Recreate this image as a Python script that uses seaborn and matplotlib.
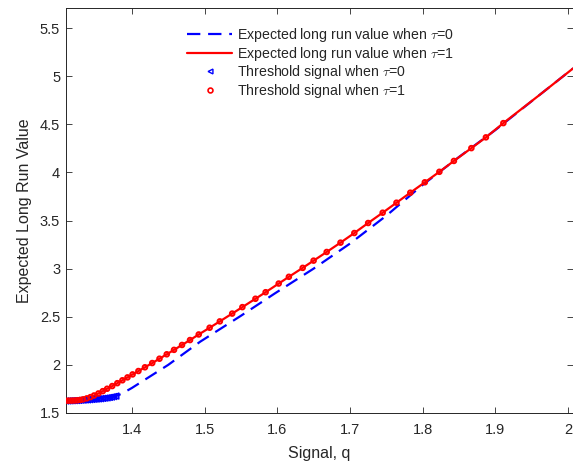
import matplotlib
matplotlib.use("Agg")
import matplotlib.pyplot as plt
import seaborn as sns
import pandas as pd
from matplotlib.lines import Line2D

# ---- data ----
red_x = [1.309, 1.313, 1.317, 1.321, 1.325, 1.329, 1.333, 1.338, 1.343, 1.348,
         1.354, 1.360, 1.366, 1.373, 1.380, 1.387, 1.394, 1.401, 1.409, 1.418,
         1.428, 1.438, 1.448, 1.458, 1.469, 1.480, 1.492, 1.507, 1.521, 1.538,
         1.552, 1.570, 1.584, 1.602, 1.616, 1.635, 1.650, 1.668, 1.687, 1.706,
         1.725, 1.745, 1.764, 1.783, 1.803, 1.823, 1.843, 1.867, 1.887, 1.911]
red_y = [1.628, 1.628, 1.629, 1.630, 1.632, 1.636, 1.642, 1.652, 1.665, 1.682,
         1.703, 1.727, 1.752, 1.780, 1.810, 1.840, 1.870, 1.901, 1.936, 1.975,
         2.019, 2.064, 2.110, 2.156, 2.207, 2.258, 2.316, 2.386, 2.452, 2.533,
         2.600, 2.687, 2.755, 2.845, 2.915, 3.008, 3.083, 3.173, 3.270, 3.370,
         3.474, 3.581, 3.685, 3.789, 3.897, 4.006, 4.119, 4.252, 4.364, 4.512]
red_tail_x = [1.960, 2.007]
red_tail_y = [4.800, 5.081]

blue_mk_x = [1.309, 1.312, 1.315, 1.318, 1.321, 1.324, 1.327, 1.330, 1.333, 1.336,
             1.339, 1.342, 1.345, 1.348, 1.351, 1.354, 1.357, 1.360, 1.363, 1.366,
             1.369, 1.372, 1.375, 1.378]
blue_mk_y = [1.625, 1.626, 1.627, 1.628, 1.629, 1.630, 1.631, 1.633, 1.634, 1.636,
             1.637, 1.639, 1.641, 1.643, 1.645, 1.647, 1.649, 1.652, 1.655, 1.658,
             1.662, 1.666, 1.671, 1.676]
blue_tail_x = [1.386, 1.400, 1.450, 1.494, 1.550, 1.597, 1.650, 1.700, 1.750,
               1.800, 1.850, 1.900, 1.950, 2.007]
blue_tail_y = [1.700, 1.760, 2.000, 2.241, 2.510, 2.744, 3.000, 3.260, 3.550,
               3.870, 4.160, 4.440, 4.740, 5.081]

x_ticks = [1.4, 1.5, 1.6, 1.7, 1.8, 1.9, 2.0]
x_ticklabels = ["1.4", "1.5", "1.6", "1.7", "1.8", "1.9", "2"]
y_ticks = [1.5, 2, 2.5, 3, 3.5, 4, 4.5, 5, 5.5]
y_ticklabels = ["1.5", "2", "2.5", "3", "3.5", "4", "4.5", "5", "5.5"]

labels = ["Expected long run value when $\\tau$=0",
          "Expected long run value when $\\tau$=1",
          "Threshold signal when $\\tau$=0",
          "Threshold signal when $\\tau$=1"]

# ---- frames ----
red_line = pd.DataFrame({"q": red_x + red_tail_x, "v": red_y + red_tail_y})
red_pts = pd.DataFrame({"q": red_x, "v": red_y})
blue_line = pd.DataFrame({"q": blue_mk_x + blue_tail_x, "v": blue_mk_y + blue_tail_y})
blue_pts = pd.DataFrame({"q": blue_mk_x, "v": blue_mk_y})

sns.set_style("white")
plt.rcParams["font.family"] = ["Liberation Sans", "DejaVu Sans"]
plt.rcParams["mathtext.fontset"] = "cm"

txt = "#262626"
fig = plt.figure(figsize=(5.73, 4.66), dpi=100)
ax = fig.add_axes([65.7 / 573, 53 / 466, 1 - 65.7 / 573, 405 / 466])

BLUE = "#0000ff"
RED = "#ff0000"

sns.lineplot(data=blue_line, x="q", y="v", ax=ax, color=BLUE, lw=1.6,
             estimator=None, sort=False, dashes=False)
ax.lines[-1].set_dashes([6, 3.5])
sns.lineplot(data=red_line, x="q", y="v", ax=ax, color=RED, lw=1.6,
             estimator=None, sort=False)
sns.scatterplot(data=blue_pts, x="q", y="v", ax=ax, marker="<", s=18,
                facecolors="none", edgecolor=BLUE, linewidth=1.1, zorder=3)
sns.scatterplot(data=red_pts, x="q", y="v", ax=ax, marker="o", s=11,
                facecolors="none", edgecolor=RED, linewidth=1.4, zorder=4)

ax.set_xlim(1.309, 2.0068)
ax.set_ylim(1.5, 5.708)
ax.set_xticks(x_ticks)
ax.set_xticklabels(x_ticklabels)
ax.set_yticks(y_ticks)
ax.set_yticklabels(y_ticklabels)
ax.tick_params(direction="in", length=4, width=0.6, colors="#262626",
               labelcolor=txt, labelsize=10.5, top=True, right=True,
               bottom=True, left=True, pad=4)
ax.tick_params(axis="x", pad=7)
for s in ax.spines.values():
    s.set_color("#262626")
    s.set_linewidth(0.7)
ax.set_xlabel("Signal, q", fontsize=11.5, color=txt, labelpad=7)
ax.set_ylabel("Expected Long Run Value", fontsize=11.5, color=txt, labelpad=6)

handles = [
    Line2D([], [], color=BLUE, lw=1.6, dashes=[6, 3.5]),
    Line2D([], [], color=RED, lw=1.6),
    Line2D([], [], color=BLUE, lw=0, marker="<", ms=3.5, mfc="none", mew=1.0),
    Line2D([], [], color=RED, lw=0, marker="o", ms=3.5, mfc="none", mew=1.2),
]
leg = ax.legend(handles, labels, loc="upper left",
                bbox_to_anchor=(187 / 573, 1 - 26 / 466),
                bbox_transform=fig.transFigure, frameon=False,
                fontsize=10.2, handlelength=3.2, handletextpad=0.35,
                labelspacing=0.05, borderaxespad=0, borderpad=0)
for t in leg.get_texts():
    t.set_color(txt)

fig.savefig("out.png", dpi=100)
